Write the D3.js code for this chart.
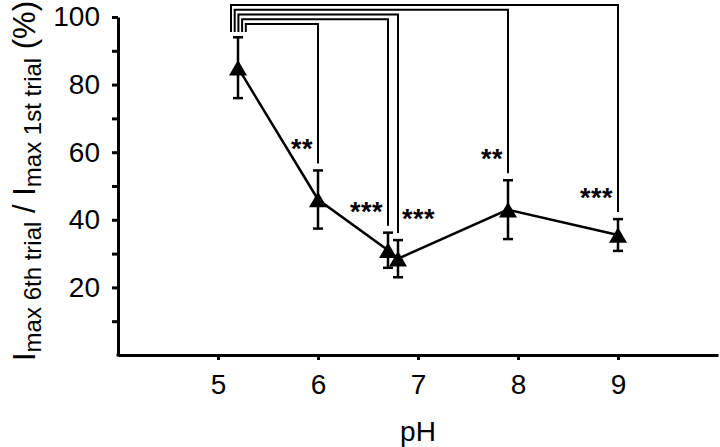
<!DOCTYPE html>
<html>
<head>
<meta charset="utf-8">
<script src="https://cdn.jsdelivr.net/npm/d3@7"></script>
<style>
  body { margin: 0; background: #fff; }
  svg text { font-family: 'Liberation Sans', Arial, sans-serif; fill: #000; }
</style>
</head>
<body>
<svg id="chart" width="720" height="447"></svg>
<script>
// pH tested and the ratio of peak currents (6th / 1st trial), mean +/- error
const phValues = [5.2, 6.0, 6.7, 6.8, 7.9, 9.0]
const ratioMeans = [85, 46, 31, 28.5, 43, 35.5]
const ratioErrors = [9, 8.6, 5.2, 5.5, 8.7, 4.7]

// comparisons against pH 5.2, outermost bracket first
const comparePh = [9.0, 7.9, 6.8, 6.7, 6.0]
const compareStars = ['***', '**', '***', '***', '**']

const xTicks = [5, 6, 7, 8, 9]
const yTicks = [10, 20, 30, 40, 50, 60, 70, 80, 90, 100]
const yTickLabels = [20, 40, 60, 80, 100]

const svg = d3.select('#chart')
const x = d3.scaleLinear().domain([4, 10]).range([118, 718])
const y = d3.scaleLinear().domain([0, 100]).range([355, 17])

const points = phValues.map((ph, i) => ({ ph, mean: ratioMeans[i], err: ratioErrors[i] }))

// axes
const xAxis = svg.append('g').attr('transform', `translate(0,${y(0)})`)
  .call(d3.axisBottom(x).tickValues(xTicks).tickSize(5).tickPadding(14).tickSizeOuter(0)
    .tickFormat(d3.format('d')))
const yAxis = svg.append('g').attr('transform', `translate(${x(4)},0)`)
  .call(d3.axisLeft(y).tickValues(yTicks).tickSize(6).tickPadding(12).tickSizeOuter(0)
    .tickFormat((d) => (yTickLabels.includes(d) ? d : '')))
;[xAxis, yAxis].forEach((g) => {
  g.select('.domain').attr('stroke', '#000').attr('stroke-width', 3)
  g.selectAll('.tick line').attr('stroke', '#000').attr('stroke-width', 3)
  g.selectAll('.tick text').style('font-size', '28px')
})
// join the two axis lines at the corner
svg.append('line')
  .attr('x1', x(4) - 1.5).attr('x2', x(4) + 1.5)
  .attr('y1', y(0)).attr('y2', y(0))
  .attr('stroke', '#000').attr('stroke-width', 3)

svg.append('text')
  .attr('x', x(7)).attr('y', 441)
  .attr('text-anchor', 'middle')
  .style('font-size', '28px')
  .text('pH')

const yLabel = svg.append('text')
  .attr('transform', 'translate(35,181) rotate(-90)')
  .attr('text-anchor', 'middle')
  .style('font-size', '31px')
yLabel.append('tspan').text('I')
yLabel.append('tspan').attr('dy', 6).style('font-size', '24px').text('max 6th trial')
yLabel.append('tspan').attr('dy', -6).text(' / I')
yLabel.append('tspan').attr('dy', 6).style('font-size', '24px').text('max 1st trial')
yLabel.append('tspan').attr('dy', -6).text(' (%)')

// significance brackets
const brackets = comparePh.map((ph, i) => {
  const p = points.find((d) => d.ph === ph)
  return {
    ph,
    stars: compareStars[i],
    left: x(phValues[0]) - 7 + i * 3.7,
    top: 5 + i * 4.75,
    bottom: y(p.mean + p.err) - 7,
  }
})
svg.append('g')
  .selectAll('path')
  .data(brackets)
  .join('path')
  .attr('fill', 'none')
  .attr('stroke', '#000')
  .attr('stroke-width', 2)
  .attr('d', (d) => `M${d.left},32V${d.top}H${x(d.ph)}V${d.bottom}`)

svg.append('g')
  .selectAll('text')
  .data(brackets)
  .join('text')
  .attr('x', (d) => (d.ph === 6.8 ? x(d.ph) + 4 : x(d.ph) - 5))
  .attr('y', (d) => d.bottom - 21 + 16)
  .attr('text-anchor', (d) => (d.ph === 6.8 ? 'start' : 'end'))
  .style('font-size', '27px')
  .style('font-weight', 'bold')
  .style('letter-spacing', '0.5px')
  .text((d) => d.stars)

// connecting line
svg.append('path')
  .datum(points)
  .attr('fill', 'none')
  .attr('stroke', '#000')
  .attr('stroke-width', 2.5)
  .attr('d', d3.line().x((d) => x(d.ph)).y((d) => y(d.mean)))

// error bars
const bars = svg.append('g')
  .selectAll('g')
  .data(points)
  .join('g')
  .attr('stroke', '#000')
  .attr('stroke-width', 2.5)
bars.append('line')
  .attr('x1', (d) => x(d.ph)).attr('x2', (d) => x(d.ph))
  .attr('y1', (d) => y(d.mean + d.err)).attr('y2', (d) => y(d.mean - d.err))
bars.selectAll('line.cap')
  .data((d) => [[d.ph, d.mean + d.err], [d.ph, d.mean - d.err]])
  .join('line')
  .attr('class', 'cap')
  .attr('x1', (d) => x(d[0]) - 5).attr('x2', (d) => x(d[0]) + 5)
  .attr('y1', (d) => y(d[1])).attr('y2', (d) => y(d[1]))

// triangle markers
svg.append('g')
  .selectAll('path')
  .data(points)
  .join('path')
  .attr('d', d3.symbol(d3.symbolTriangle, 140))
  .attr('transform', (d) => `translate(${x(d.ph)},${y(d.mean) + 2.6})`)
  .attr('fill', '#000')
</script>
</body>
</html>
